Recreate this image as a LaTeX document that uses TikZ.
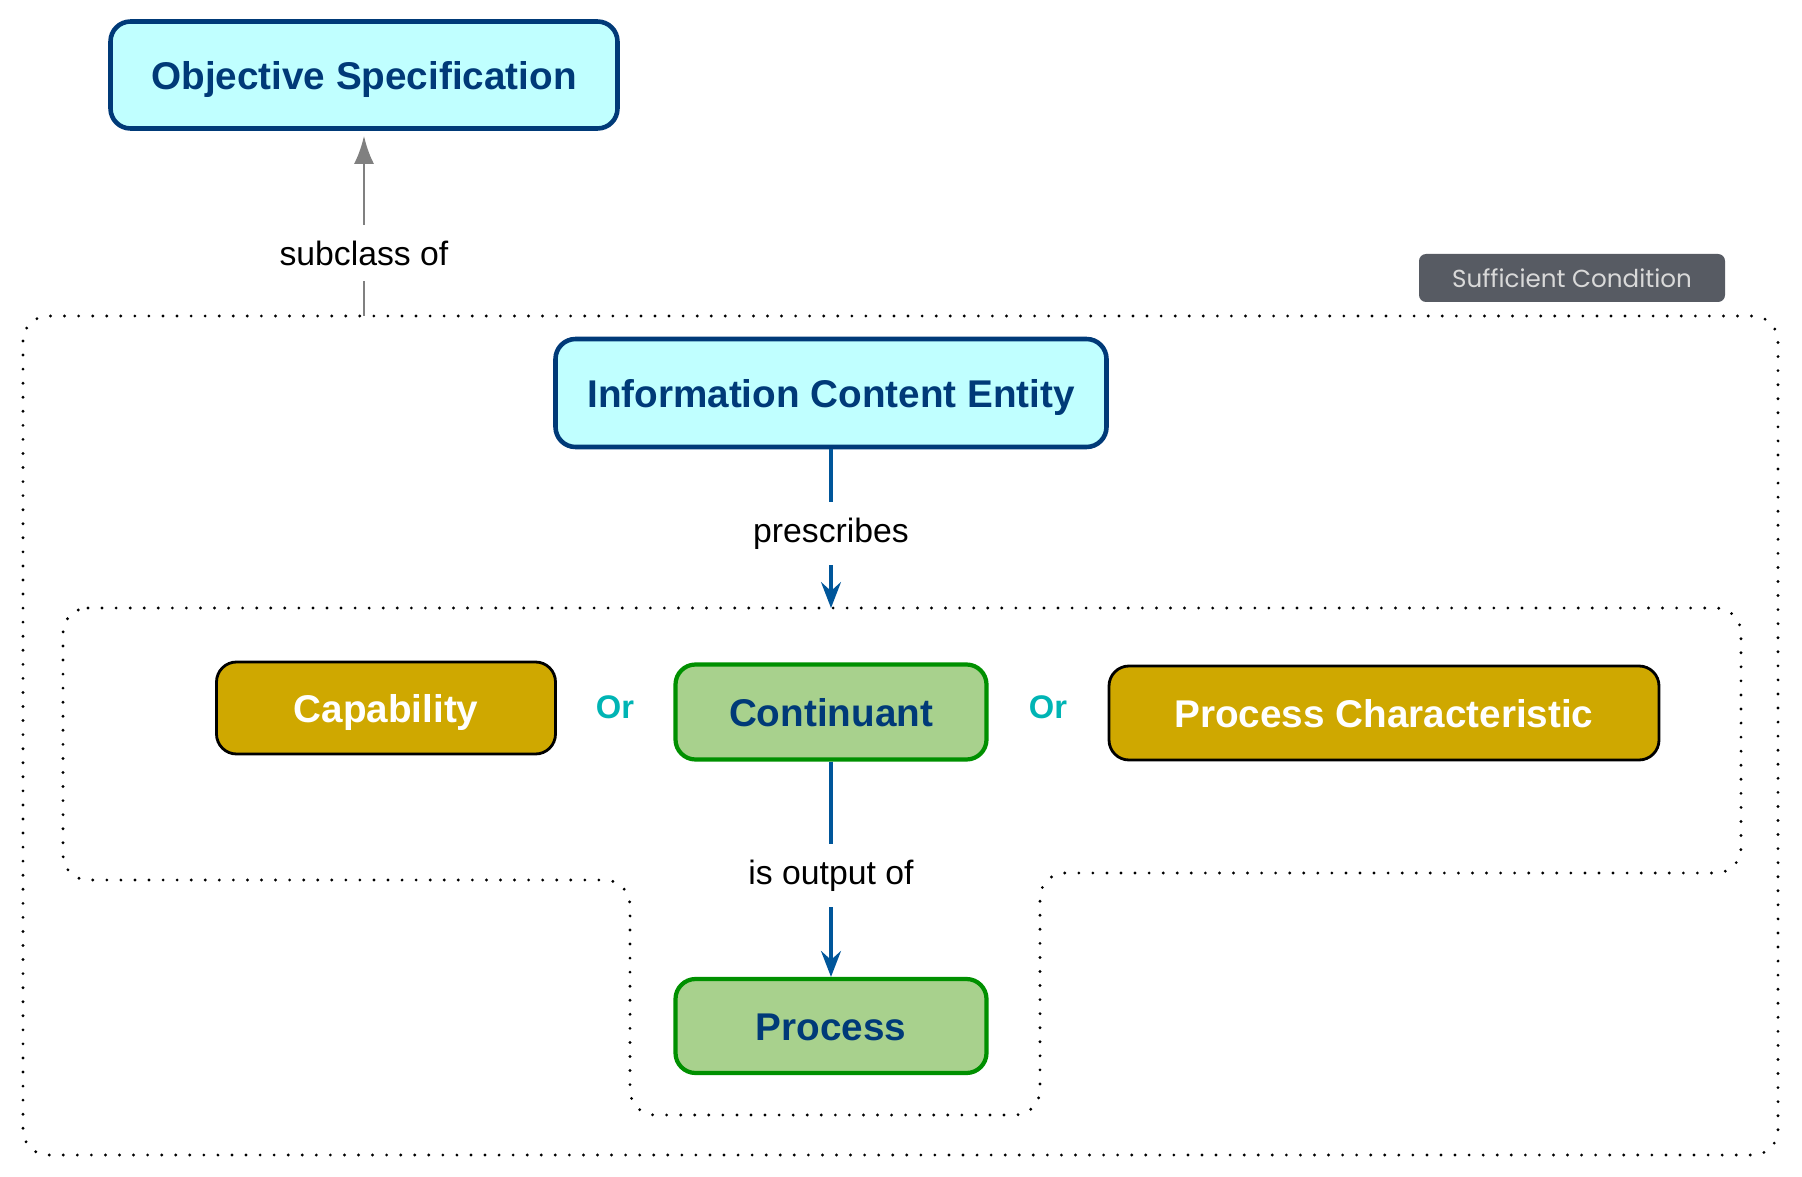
\documentclass[tikz,border=0pt]{standalone}
\usepackage{fontspec}
\setmainfont{Liberation Sans}
\newfontfamily\tagfont{Poppins}
\usetikzlibrary{arrows.meta}

\definecolor{navy}{HTML}{003A78}
\definecolor{cyanfill}{HTML}{C0FFFF}
\definecolor{gold}{HTML}{CFA800}
\definecolor{greenfill}{HTML}{A8D18D}
\definecolor{greenline}{HTML}{009000}
\definecolor{teal}{HTML}{00B4B4}
\definecolor{tagfill}{HTML}{575B63}
\definecolor{tagtext}{HTML}{D9D9D9}
\definecolor{relblue}{HTML}{00569A}
\definecolor{relgrey}{HTML}{808080}

\begin{document}
\begin{tikzpicture}[x=0.1mm, y=-0.1mm,
    box/.style={rounded corners=2mm, inner sep=0pt, align=center,
        text height=0.85em, text depth=0pt,
        font=\fontsize{11}{13}\selectfont\bfseries},
    cyanbox/.style={box, draw=navy, fill=cyanfill, text=navy, line width=1.3pt},
    goldbox/.style={box, draw=black, fill=gold, text=white, line width=0.8pt},
    greenbox/.style={box, draw=greenline, fill=greenfill, text=navy, line width=1.2pt},
    orlbl/.style={text=teal, font=\fontsize{9.3}{11}\selectfont\bfseries},
    lbl/.style={fill=white, inner xsep=2pt, inner ysep=4.5pt,
        font=\fontsize{9.6}{11}\selectfont},
    group/.style={dash pattern=on 0pt off 4pt, line cap=round, line width=0.9pt,
        rounded corners=2.5mm},
    subarrow/.style={draw=relgrey, line width=0.8pt,
        -{Latex[length=2.8mm, width=2mm]}, shorten >=0.5mm},
    relarrow/.style={draw=relblue, line width=0.9pt,
        -{Stealth[length=2.6mm, width=2mm, inset=0.9mm]}}
]
    \useasboundingbox (0,0) rectangle (1802,1177);

    % Riquadri punteggiati delle condizioni
    \draw[group] (23,316) rectangle (1778,1155);
    \draw[group] (63,608) -- (1741,608) -- (1741,873) -- (1040,873) -- (1040,1115)
        -- (630,1115) -- (630,880) -- (63,880) -- cycle;

    % Etichetta della condizione
    \node[fill=tagfill, text=tagtext, rounded corners=0.7mm, minimum width=30.6mm,
        minimum height=4.8mm, inner sep=0pt, font=\tagfont\fontsize{7}{8}\selectfont]
        (cond) at (1572,278) {Sufficient Condition};

    % Classi
    \node[cyanbox, minimum width=50.7mm, minimum height=10.7mm] (objspec) at (364,75) {Objective Specification};
    \node[cyanbox, minimum width=55.1mm, minimum height=10.8mm] (ice) at (831,393) {Information Content Entity};
    \node[goldbox, minimum width=33.9mm, minimum height=9.2mm] (capab) at (386,708) {Capability};
    \node[greenbox, minimum width=31.1mm, minimum height=9.5mm] (cont) at (831,712) {Continuant};
    \node[goldbox, minimum width=55.0mm, minimum height=9.4mm] (pchar) at (1384,713) {Process Characteristic};
    \node[greenbox, minimum width=31.1mm, minimum height=9.4mm] (proc) at (831,1026) {Process};

    % Disgiunzioni
    \node[orlbl] (or1) at (615,707) {Or};
    \node[orlbl] (or2) at (1048,707) {Or};

    % Relazioni
    \coordinate (subtop) at (364,316);
    \coordinate (grptop) at (831,608);
    \draw[subarrow] (subtop) -- node[lbl, pos=0.34] (sublbl) {subclass of} (objspec);
    \draw[relarrow] (ice) -- node[lbl, pos=0.53] (prelbl) {prescribes} (grptop);
    \draw[relarrow] (cont) -- node[lbl, pos=0.53] (outlbl) {is output of} (proc);
\end{tikzpicture}
\end{document}
